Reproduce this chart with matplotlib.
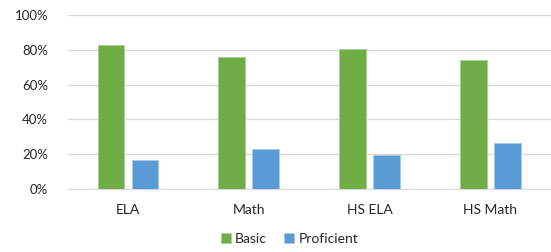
import numpy as np
import matplotlib.pyplot as plt
from matplotlib.ticker import PercentFormatter

# data
categories = ["ELA", "Math", "HS ELA", "HS Math"]
basic = [0.83, 0.76, 0.805, 0.74]
proficient = [0.165, 0.232, 0.194, 0.265]

plt.rcParams["font.family"] = ["Lato", "DejaVu Sans"]

fig = plt.figure(figsize=(5.51, 2.52), dpi=100)
ax = fig.add_axes([0.1227, 0.25, 0.877, 0.69])

x = np.arange(len(categories))
w = 0.222
ax.bar(x - 0.141, basic, w, color="#70AD47", edgecolor="#a9cf93", linewidth=0.6, label="Basic", zorder=3)
ax.bar(x + 0.141, proficient, w, color="#5B9BD5", edgecolor="#a5c8ea", linewidth=0.6, label="Proficient", zorder=3)

ax.set_xlim(-0.5, len(categories) - 0.5)
ax.set_ylim(0, 1)
ax.set_yticks(np.arange(0, 1.01, 0.2))
ax.yaxis.set_major_formatter(PercentFormatter(1.0, decimals=0))
ax.set_xticks(x)
ax.set_xticklabels(categories)
ax.grid(axis="y", color="#d9d9d9", linewidth=1, zorder=0)
for s in ["top", "right", "left"]:
    ax.spines[s].set_visible(False)
ax.spines["bottom"].set_color("#d9d9d9")
ax.tick_params(axis="both", length=0, colors="#262626")
ax.tick_params(axis="y", labelsize=9.5, pad=14)
ax.tick_params(axis="x", labelsize=10, pad=11)

fig.legend(loc="lower center", bbox_to_anchor=(0.525, -0.02), ncol=2, frameon=False,
           fontsize=10, handlelength=0.75, handleheight=0.75, handletextpad=0.3,
           columnspacing=1.2, labelcolor="#262626")

plt.savefig("out.png", dpi=100)
